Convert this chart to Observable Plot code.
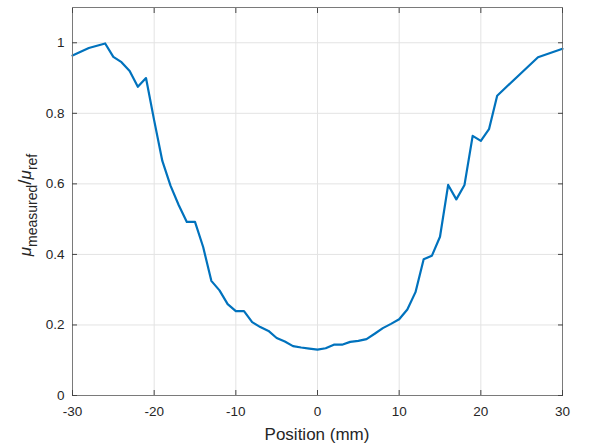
<!DOCTYPE html>
<html>
<head>
<meta charset="utf-8">
<script src="https://cdn.jsdelivr.net/npm/d3@7"></script>
<script src="https://cdn.jsdelivr.net/npm/@observablehq/plot@0.6"></script>
<style>
  html, body { margin: 0; padding: 0; background: #fff; }
</style>
</head>
<body>
<div id="chart"></div>
<script>
// Position (mm)
const position = [-30, -28, -26, -25, -24, -23, -22, -21, -20, -19, -18, -17, -16, -15, -14, -13, -12, -11, -10, -9, -8, -7, -6, -5, -4, -3, -2, -1, 0, 1, 2, 3, 4, 5, 6, 7, 8, 9, 10, 11, 12, 13, 14, 15, 16, 17, 18, 19, 20, 21, 22, 27, 30];
// mu_measured / mu_ref
const ratio = [0.964, 0.985, 0.998, 0.96, 0.945, 0.92, 0.875, 0.90, 0.78, 0.665, 0.595, 0.54, 0.492, 0.492, 0.421, 0.325, 0.298, 0.259, 0.239, 0.239, 0.208, 0.194, 0.183, 0.163, 0.153, 0.140, 0.136, 0.133, 0.130, 0.134, 0.144, 0.144, 0.152, 0.155, 0.160, 0.175, 0.191, 0.203, 0.216, 0.244, 0.293, 0.386, 0.396, 0.45, 0.597, 0.556, 0.597, 0.736, 0.722, 0.755, 0.850, 0.959, 0.983];

const xTicks = [-30, -20, -10, 0, 10, 20, 30];
const yTicks = [0, 0.2, 0.4, 0.6, 0.8, 1];
const yTickLabels = ["0", "0.2", "0.4", "0.6", "0.8", "1"];
const xLabel = "Position (mm)";

const data = position.map((x, i) => ({x, y: ratio[i]}));

const font = "'Liberation Sans', Arial, Helvetica, sans-serif";
const tickColor = "#444";

const chart = Plot.plot({
  width: 592,
  height: 445,
  marginLeft: 72,
  marginRight: 30,
  marginTop: 7,
  marginBottom: 50,
  style: {fontFamily: font, fontSize: "13.5px", background: "#fff", color: "#262626"},
  x: {domain: [-30, 30]},
  y: {domain: [0, 1.1]},
  marks: [
    Plot.gridX(xTicks, {stroke: "#e3e3e3", strokeOpacity: 1}),
    Plot.gridY(yTicks, {stroke: "#e3e3e3", strokeOpacity: 1}),
    Plot.line(data, {x: "x", y: "y", stroke: "#0072BD", strokeWidth: 2.2}),
    Plot.frame({stroke: "#7a7a7a"}),
    Plot.axisX(xTicks, {anchor: "bottom", tickSize: 5, dy: -5, fill: "none", label: null, stroke: tickColor}),
    Plot.axisX(xTicks, {anchor: "top", tickSize: 5, dy: 5, fill: "none", label: null, stroke: tickColor}),
    Plot.axisY(yTicks, {anchor: "left", tickSize: 5, dx: 5, fill: "none", label: null, stroke: tickColor}),
    Plot.axisY(yTicks, {anchor: "right", tickSize: 5, dx: -5, fill: "none", label: null, stroke: tickColor}),
    Plot.axisX(xTicks, {anchor: "bottom", tickSize: 0, tickPadding: 11, label: null, fill: "#262626", tickFormat: d => String(d)}),
    Plot.axisY(yTicks, {anchor: "left", tickSize: 0, tickPadding: 8, label: null, fill: "#262626", tickFormat: d => yTickLabels[yTicks.indexOf(d)]})
  ]
});

document.getElementById("chart").appendChild(chart);

const svg = d3.select(chart);
const xs = chart.scale("x");
const ys = chart.scale("y");
const cx = (xs.range[0] + xs.range[1]) / 2;
const cy = (ys.range[0] + ys.range[1]) / 2;

svg.append("text")
  .attr("x", cx)
  .attr("y", 440)
  .attr("text-anchor", "middle")
  .attr("font-family", font)
  .attr("font-size", 17)
  .attr("fill", "#262626")
  .text(xLabel);

const yl = svg.append("text")
  .attr("transform", `translate(31,${cy + 4}) rotate(-90)`)
  .attr("text-anchor", "middle")
  .attr("font-family", font)
  .attr("font-size", 17)
  .attr("fill", "#262626");
yl.append("tspan").attr("font-style", "italic").text("μ");
yl.append("tspan").attr("font-size", 14).attr("dy", 6).text("measured");
yl.append("tspan").attr("dy", -6).attr("font-size", 19).text("/");
yl.append("tspan").attr("font-style", "italic").text("μ");
yl.append("tspan").attr("font-size", 14).attr("dy", 6).text("ref");
</script>
</body>
</html>
